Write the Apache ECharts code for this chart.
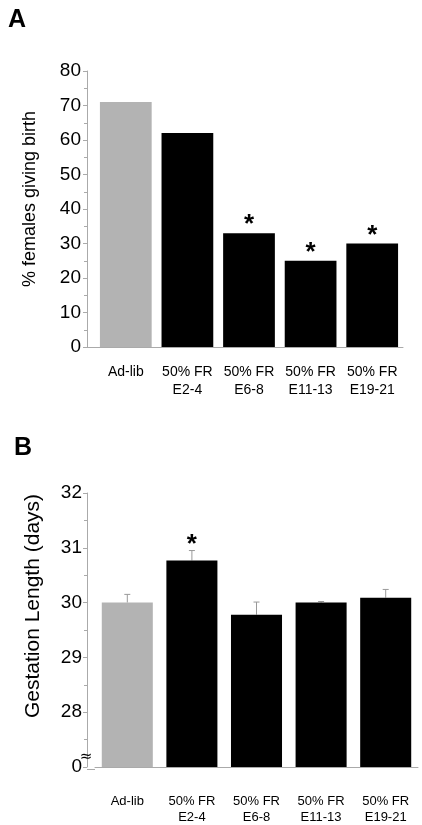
<!DOCTYPE html>
<html>
<head>
<meta charset="utf-8">
<script src="https://cdn.jsdelivr.net/npm/echarts@6/dist/echarts.min.js"></script>
<style>
html,body{margin:0;padding:0;background:#fff;}
#c{width:422px;height:825px;}
</style>
</head>
<body>
<div id="c"></div>
<script>
const categories = ['Ad-lib', '50% FR\nE2-4', '50% FR\nE6-8', '50% FR\nE11-13', '50% FR\nE19-21'];
const birthPct = [71, 62, 33, 25, 30];
const birthSig = [false, false, true, true, true];
const gestMean = [30.0, 30.77, 29.78, 30.0, 30.09];
const gestErr = [0.15, 0.18, 0.23, 0.02, 0.15];
const gestSig = [false, true, false, false, false];
const gestTickLabels = { 27: '0', 28: '28', 29: '29', 30: '30', 31: '31', 32: '32' };

const FONT = 'Liberation Sans, Arial, sans-serif';
const AXIS_COLOR = '#aaaaaa';
const GRAY = '#b3b3b3';

const chart = echarts.init(document.getElementById('c'), null, { renderer: 'canvas' });

function barColor(p) { return p.dataIndex === 0 ? GRAY : '#000000'; }

const errData = gestMean.map((m, i) => [i, m, m + gestErr[i]]);
const starData = gestMean.map((m, i) => gestSig[i] ? [i, m + gestErr[i]] : null).filter(d => d);

function yAxisCommon(extra) {
  return Object.assign({
    type: 'value',
    offset: 8,
    splitLine: { show: false },
    axisLine: { show: true, lineStyle: { color: AXIS_COLOR, width: 1 } },
    axisTick: { show: true, length: 4, lineStyle: { color: AXIS_COLOR } },
    minorTick: { show: true, splitNumber: 2, length: 3, lineStyle: { color: AXIS_COLOR } },
    axisLabel: { color: '#000', fontFamily: FONT, fontSize: 19, margin: 6 }
  }, extra);
}

const option = {
  animation: false,
  backgroundColor: '#fff',
  grid: [
    { left: 95, right: 19, top: 71, height: 276 },
    { left: 95, right: 4, top: 493, height: 276 }
  ],
  xAxis: [
    {
      type: 'category', gridIndex: 0, data: categories,
      axisLine: { lineStyle: { color: AXIS_COLOR } },
      axisTick: { alignWithLabel: true, length: 4, lineStyle: { color: AXIS_COLOR } },
      axisLabel: { interval: 0, color: '#000', fontFamily: FONT, fontSize: 14, lineHeight: 18, margin: 16 }
    },
    {
      type: 'category', gridIndex: 1, data: categories,
      axisLine: { lineStyle: { color: AXIS_COLOR } },
      axisTick: { alignWithLabel: true, length: 4, lineStyle: { color: AXIS_COLOR } },
      axisLabel: { interval: 0, color: '#000', fontFamily: FONT, fontSize: 13, lineHeight: 16, margin: 26 }
    }
  ],
  yAxis: [
    yAxisCommon({ gridIndex: 0, min: 0, max: 80, interval: 10 }),
    yAxisCommon({
      gridIndex: 1, min: 27, max: 32, interval: 1,
      axisLabel: { color: '#000', fontFamily: FONT, fontSize: 19, margin: 5,
        formatter: v => gestTickLabels[v] !== undefined ? gestTickLabels[v] : '' }
    })
  ],
  series: [
    {
      type: 'bar', xAxisIndex: 0, yAxisIndex: 0,
      barCategoryGap: '16%',
      data: birthPct.map((v, i) => ({
        value: v,
        label: { show: birthSig[i] }
      })),
      itemStyle: { color: barColor },
      label: {
        position: 'top', distance: -5, formatter: '*',
        color: '#000', fontFamily: FONT, fontSize: 26, fontWeight: 'bold'
      }
    },
    {
      type: 'bar', xAxisIndex: 1, yAxisIndex: 1,
      barCategoryGap: '21%',
      data: gestMean,
      itemStyle: { color: barColor }
    },
    {
      type: 'custom', xAxisIndex: 1, yAxisIndex: 1,
      data: errData,
      z: 1,
      renderItem: function (params, api) {
        const x = api.value(0);
        const base = api.coord([x, api.value(1)]);
        const top = api.coord([x, api.value(2)]);
        const capW = 3;
        return {
          type: 'group',
          children: [
            { type: 'line', shape: { x1: base[0], y1: base[1], x2: top[0], y2: top[1] },
              style: { stroke: '#999', lineWidth: 1 } },
            { type: 'line', shape: { x1: top[0] - capW, y1: top[1], x2: top[0] + capW, y2: top[1] },
              style: { stroke: '#999', lineWidth: 1 } }
          ]
        };
      }
    },
    {
      type: 'scatter', xAxisIndex: 1, yAxisIndex: 1,
      data: starData,
      symbolSize: 0,
      z: 5,
      itemStyle: { color: '#000', opacity: 1 },
      label: {
        show: true, position: 'top', distance: -7, formatter: '*',
        color: '#000', opacity: 1, fontFamily: FONT, fontSize: 26, fontWeight: 'bold'
      }
    }
  ],
  graphic: [
    { type: 'text', left: 8, top: 8, style: { text: 'A', fontFamily: FONT, fontSize: 25, fontWeight: 'bold', fill: '#000' } },
    { type: 'text', left: 14, top: 436, style: { text: 'B', fontFamily: FONT, fontSize: 25, fontWeight: 'bold', fill: '#000' } },
    { type: 'text', x: 30, y: 199, rotation: Math.PI / 2,
      style: { text: '% females giving birth', fontFamily: FONT, fontSize: 18, fill: '#000', align: 'center', verticalAlign: 'middle' } },
    { type: 'text', x: 33, y: 606, rotation: Math.PI / 2,
      style: { text: 'Gestation Length (days)', fontFamily: FONT, fontSize: 21, fill: '#000', align: 'center', verticalAlign: 'middle' } },
    { type: 'line', shape: { x1: 87, y1: 347.5, x2: 95, y2: 347.5 }, style: { stroke: AXIS_COLOR, lineWidth: 1 } },
    { type: 'line', shape: { x1: 87, y1: 769.5, x2: 95, y2: 769.5 }, style: { stroke: AXIS_COLOR, lineWidth: 1 } },
    { type: 'text', x: 86, y: 757, z: 100,
      style: { text: '≈', fontFamily: 'DejaVu Sans', fontSize: 15, fill: '#000', align: 'center', verticalAlign: 'middle' } }
  ]
};
chart.setOption(option);
</script>
</body>
</html>
